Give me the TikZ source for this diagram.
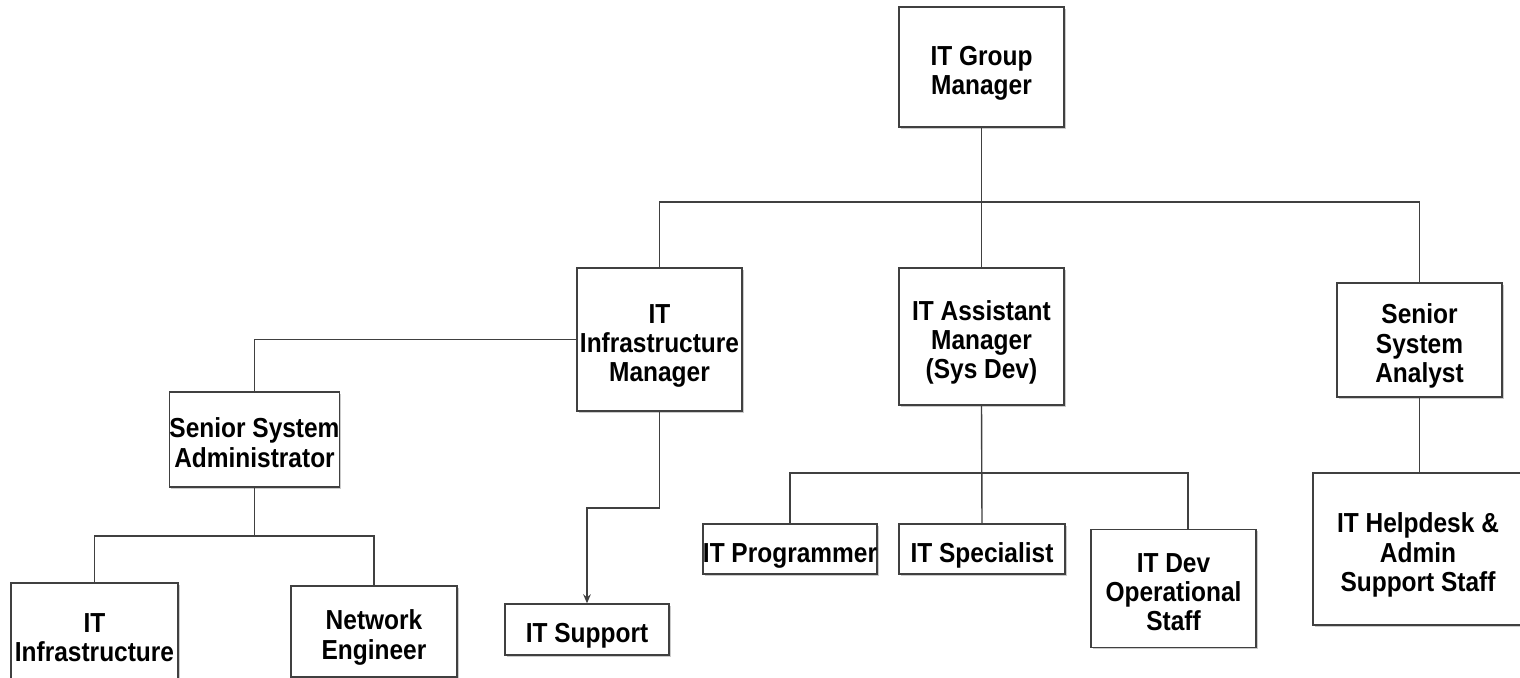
\documentclass[tikz,border=0pt]{standalone}
\usepackage{fontspec}
\setmainfont{Liberation Sans}
\newfontfamily\boxfont[FakeStretch=0.89]{Liberation Sans}
\usetikzlibrary{arrows.meta,shadows}
\definecolor{linec}{HTML}{404040}
\newcommand\ta{\rule{0pt}{16pt}}
\newcommand\tz{\rule[-3pt]{0pt}{3pt}}
\begin{document}
\begin{tikzpicture}[x=0.5pt,y=-0.5pt,
  box/.style={draw=linec, line width=0.7pt, fill=white, rectangle, inner sep=0pt, align=center,
    font=\boxfont\fontsize{13.75}{14.6}\selectfont\bfseries,
    drop shadow={shadow xshift=0.9pt, shadow yshift=-0.9pt, fill=black!25, opacity=0.8}},
  conn/.style={draw=linec, line width=0.7pt},
  arr/.style={conn, -{Stealth[length=4.5pt,width=3.8pt]}}]
\useasboundingbox (0,0) rectangle (1520,677);
\clip (0,0) rectangle (1520,677);
\fill[white] (0,0) rectangle (1520,677);
% nodes
\node[box, minimum width=82.5pt, minimum height=60pt] (gm) at (981.5,67) {\ta IT Group\\Manager\tz};
\node[box, minimum width=82.5pt, minimum height=71.5pt] (im) at (659.5,339.5) {\ta IT\\Infrastructure\\Manager\tz};
\node[box, minimum width=82.5pt, minimum height=68.5pt] (am) at (981.5,336.5) {\ta IT Assistant\\Manager\\(Sys Dev)\tz};
\node[box, minimum width=82.5pt, minimum height=57pt] (sa) at (1419.5,340) {\ta Senior\\System\\Analyst\tz};
\node[box, minimum width=82.5pt, minimum height=47.5pt] (adm) at (254.5,439.5) {\ta Senior System\\Administrator\tz};
\node[box, minimum width=83.5pt, minimum height=51pt] (itinf) at (94.5,634) {\ta IT\\Infrastructure\tz};
\node[box, minimum width=83pt, minimum height=45.5pt] (ne) at (374,631.5) {\ta Network\\Engineer\tz};
\node[box, minimum width=82pt, minimum height=25.5pt] (sup) at (587,629.5) {\ta IT Support\tz};
\node[box, minimum width=83pt, minimum height=25pt] (prog) at (790,549) {\ta IT Programmer\tz};
\node[box, minimum width=83pt, minimum height=25pt] (spec) at (982,549) {\ta IT Specialist\tz};
\node[box, minimum width=82.5pt, minimum height=59pt] (dev) at (1173.5,588.5) {\ta IT Dev\\Operational\\Staff\tz};
\node[box, minimum width=105pt, minimum height=76pt] (help) at (1418,549) {\ta IT Helpdesk \&\\Admin\\Support Staff\tz};
% bus coordinates
\coordinate (bus1) at (981.5,202);
\coordinate (bus2) at (254.5,536);
\coordinate (bus3) at (981.5,473);
\coordinate (t1) at (659.5,508);
% connectors
\draw[conn] (gm.south) -- (am.north);
\draw[conn] (im.north) |- (bus1) -| (sa.north);
\draw[conn] (im.west) -| (adm.north);
\draw[conn] (adm.south) -- (bus2);
\draw[conn] (itinf.north) |- (bus2) -| (ne.north);
\draw[arr] (im.south) -- (t1) -| (sup.north);
\draw[conn] (am.south) -- (spec.north);
\draw[conn] (prog.north) |- (bus3) -| ([xshift=7.25pt]dev.north);
\draw[conn] (sa.south) -- (sa.south |- help.north);
\end{tikzpicture}
\end{document}
